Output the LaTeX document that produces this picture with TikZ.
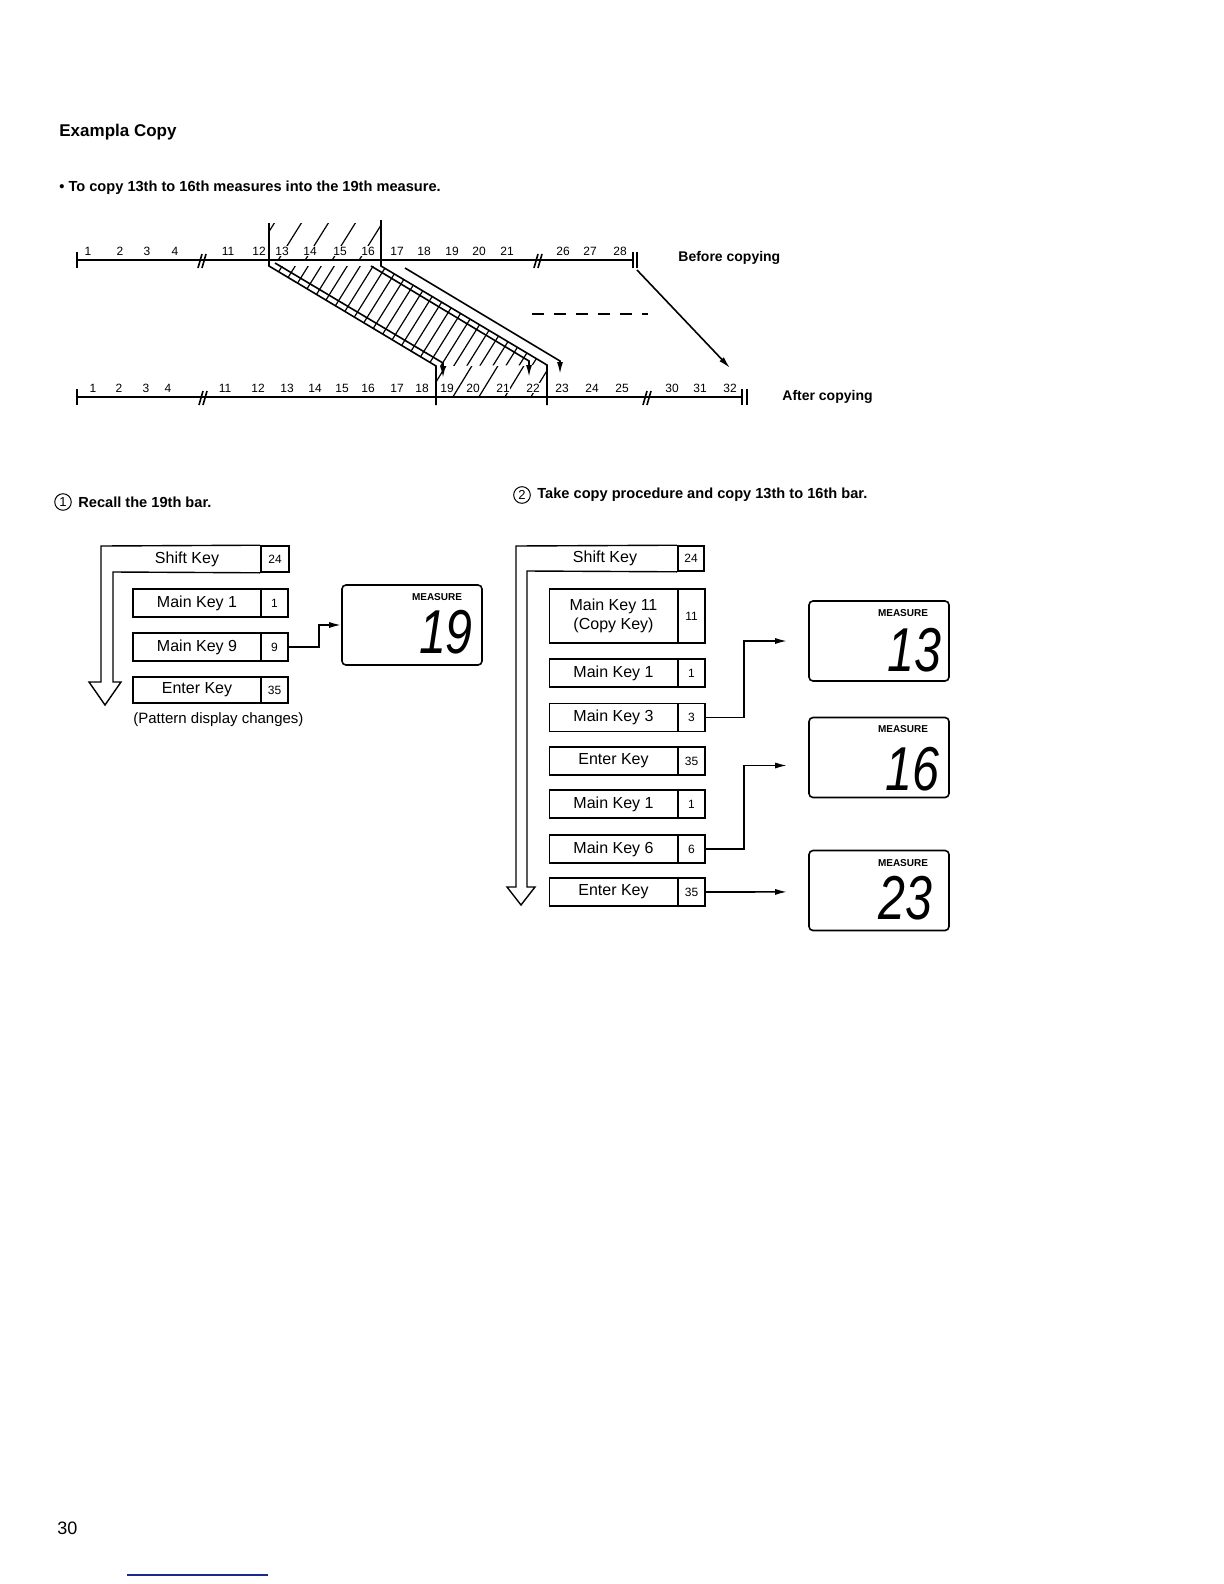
\documentclass[tikz,border=0pt]{standalone}
\usepackage{fontspec}
\setmainfont{Liberation Sans}
\usetikzlibrary{arrows.meta,positioning,calc}
\definecolor{pageBlue}{HTML}{1a2a8c}
\tikzset{
  >={Latex[length=6pt,width=3pt]},
  head/.style={font=\bfseries\fontsize{8.5}{10}\selectfont, anchor=west, inner sep=0pt},
  secthead/.style={font=\bfseries\fontsize{7.3}{9}\selectfont, anchor=west, inner sep=0pt},
  circnum/.style={draw, circle, line width=0.5pt, inner sep=0.9pt, font=\fontsize{6.5}{7}\selectfont},
  num/.style={font=\fontsize{6}{7}\selectfont, inner sep=0.4pt},
  numw/.style={num, fill=white},
  tline/.style={line width=1.2pt},
  edgeline/.style={line width=0.8pt},
  hatch/.style={line width=0.6pt},
  keybox/.style={draw, line width=0.8pt, minimum width=64pt, minimum height=14pt,
                 inner sep=0pt, align=center, font=\fontsize{8}{9.5}\selectfont},
  keylbl/.style={inner sep=0pt, font=\fontsize{8}{9.5}\selectfont},
  numcell/.style={draw, line width=0.8pt, minimum width=13.5pt, minimum height=14pt,
                 inner sep=0pt, font=\fontsize{6}{7}\selectfont},
  disp/.style={draw, line width=0.8pt, rounded corners=2pt, minimum width=70pt, minimum height=40pt},
  meas/.style={font=\bfseries\fontsize{5}{6}\selectfont, inner sep=0pt},
  segd/.style={font=\itshape\fontsize{31}{31}\selectfont, inner sep=0pt},
  flow/.style={->, line width=0.8pt},
  hollow/.style={line width=0.7pt},
  note/.style={font=\fontsize{7.5}{9}\selectfont, anchor=west, inner sep=0pt},
}
\newcommand{\segtext}[1]{\scalebox{0.78}[1]{#1}}
\begin{document}
\begin{tikzpicture}[x=0.5pt,y=-0.5pt]
  \useasboundingbox (0,0) rectangle (1224,1584);
  % titles
  \node[head] (title) at (59,132) {Exampla Copy};
  \node[secthead] (task) at (59,188) {\textbullet\ To copy 13th to 16th measures into the 19th measure.};

  % hatching: copied block, band and target
  \begin{scope}
    \clip (269,223) rectangle (381,260);
    \foreach \k in {0,...,7} \draw[hatch] ({250+27*\k},262) -- ++(25,-40);
  \end{scope}
  \begin{scope}
    \clip (269,266) -- (381,266) -- (547,365) -- (436,366) -- cycle;
    \foreach \k in {0,...,36} \draw[hatch] ({160+13*\k},420) -- ++(125,-200);
  \end{scope}
  \begin{scope}
    \clip (436,366) rectangle (547,397);
    \foreach \k in {0,...,6} \draw[hatch] ({425+26*\k},400) -- ++(22,-36);
  \end{scope}

  % before copying
  \draw[tline] (77,260) -- (633,260);
  \draw[edgeline] (77,252) -- (77,268);
  \draw[edgeline] (633,252) -- (633,268) (637,252) -- (637,268);
  \foreach \x in {202,538}
    \draw[edgeline] (\x-4,268) -- (\x,254) (\x,268) -- (\x+4,254);
  \foreach \n/\x in {1/88,2/120,3/147,4/175,11/228,12/259,17/397,18/424,19/452,20/479,21/507,26/563,27/590,28/620}
    \node[num] (t\n) at (\x,251) {\n};
  \foreach \n/\x in {13/282,14/310,15/340,16/368}
    \node[numw] (t\n) at (\x,251) {\n};
  \node[secthead, font=\bfseries\fontsize{7}{8}\selectfont] (before) at (678,258) {Before copying};

  % after copying
  \draw[tline] (77,397) -- (742,397);
  \draw[edgeline] (77,389) -- (77,405);
  \draw[edgeline] (742,389) -- (742,405) (747,389) -- (747,405);
  \foreach \x in {203,647}
    \draw[edgeline] (\x-4,405) -- (\x,391) (\x,405) -- (\x+4,391);
  \foreach \n/\x in {1/93,2/119,3/146,4/168,11/225,12/258,13/287,14/315,15/342,16/368,17/397,18/422,23/562,24/592,25/622,30/672,31/700,32/730}
    \node[num] (b\n) at (\x,388) {\n};
  \foreach \n/\x in {19/447,20/473,21/503,22/533}
    \node[numw] (b\n) at (\x,388) {\n};
  \node[secthead, font=\bfseries\fontsize{7}{8}\selectfont] (after) at (782,397) {After copying};

  % band outlines
  \draw[edgeline] (269,223) -- (269,266) -- (436,366) -- (436,405);
  \draw[edgeline] (381,220) -- (381,266) -- (547,365) -- (547,405);
  \coordinate (lo1) at (275,263); \coordinate (lo2) at (443,363); \coordinate (lo3) at (443,378);
  \coordinate (up1) at (371,266); \coordinate (up2) at (529,361); \coordinate (up3) at (529,377);
  \coordinate (sh1) at (405,268); \coordinate (sh2) at (560,361); \coordinate (sh3) at (560,374);
  \draw[edgeline,->] (lo1) -- (lo2) -- (lo3);
  \draw[edgeline,->] (up1) -- (up2) -- (up3);
  \draw[edgeline,->] (sh1) -- (sh2) -- (sh3);
  \coordinate (endT) at (637,270); \coordinate (endB) at (730,368);
  \draw[flow] (endT) -- (endB);
  \draw[edgeline, dash pattern=on 6pt off 5pt] (532,314) -- (648,314);

  % step 1
  \node[circnum] (c1) at (63,502) {1};
  \node[secthead] (h1) at (78,502) {Recall the 19th bar.};
  \node[keylbl] (a0) at (187,559) {Shift Key};
  \node[numcell, minimum width=14pt, minimum height=13pt] (a0n) at (275,559) {24};
  \node[keybox] (a1) at (197,603) {Main Key 1};
  \node[numcell] (a1n) at (274.5,603) {1};
  \node[keybox] (a2) at (197,647) {Main Key 9};
  \node[numcell] (a2n) at (274.5,647) {9};
  \node[keybox, minimum height=13pt] (a3) at (197,690) {Enter Key};
  \node[numcell, minimum height=13pt] (a3n) at (274.5,690) {35};
  \node[note] (pat) at (133,720) {(Pattern display changes)};
  \draw[hollow] (a0n.north west) -- (101,546) -- (101,682) -- (89,682) -- (105,705)
    -- (121,682) -- (113,682) -- (113,572) -- (a0n.south west);
  \node[disp] (d19) at (412,625) {};
  \node[meas] (m19) at (437,597) {MEASURE};
  \node[segd] (g19) at (446,632) {\segtext{19}};
  \draw[flow] (a2n.east) -- ++(30,0) |- (d19.west);

  % step 2
  \node[circnum] (c2) at (522,495) {2};
  \node[secthead] (h2) at (537,495) {Take copy procedure and copy 13th to 16th bar.};
  \node[keylbl] (s0) at (605,558.5) {Shift Key};
  \node[numcell, minimum width=13pt, minimum height=12.5pt] (s0n) at (691,558.5) {24};
  \node[keybox, minimum height=27pt] (s1) at (613.5,616) {Main Key 11\\(Copy Key)};
  \node[numcell, minimum height=27pt] (s1n) at (691.5,616) {11};
  \node[keybox] (s2) at (613.5,673) {Main Key 1};
  \node[numcell] (s2n) at (691.5,673) {1};
  \node[keybox] (s3) at (613.5,717.5) {Main Key 3};
  \node[numcell] (s3n) at (691.5,717.5) {3};
  \node[keybox] (s4) at (613.5,761) {Enter Key};
  \node[numcell] (s4n) at (691.5,761) {35};
  \node[keybox] (s5) at (613.5,804) {Main Key 1};
  \node[numcell] (s5n) at (691.5,804) {1};
  \node[keybox] (s6) at (613.5,849) {Main Key 6};
  \node[numcell] (s6n) at (691.5,849) {6};
  \node[keybox] (s7) at (613.5,892) {Enter Key};
  \node[numcell] (s7n) at (691.5,892) {35};
  \draw[hollow] (s0n.north west) -- (516,546) -- (516,887) -- (507,887) -- (521,905)
    -- (535,887) -- (527,887) -- (527,571) -- (s0n.south west);

  \node[disp] (d13) at (879,641) {};
  \node[meas] (m13) at (903,613) {MEASURE};
  \node[segd] (g13) at (914,650) {\segtext{13}};
  \node[disp] (d16) at (879,757.5) {};
  \node[meas] (m16) at (903,729) {MEASURE};
  \node[segd] (g16) at (912,769) {\segtext{16}};
  \node[disp] (d23) at (879,890.5) {};
  \node[meas] (m23) at (903,863) {MEASURE};
  \node[segd] (g23) at (905,898) {\segtext{23}};

  \coordinate (in13) at ([xshift=-10.5pt]d13.west);
  \coordinate (in16) at ([xshift=-10.5pt,yshift=-4pt]d16.west);
  \coordinate (in23) at ([xshift=-10.5pt,yshift=-0.7pt]d23.west);
  \draw[flow] (s3n.east) -- ++(38,0) |- (in13);
  \draw[flow] (s6n.east) -- ++(38,0) |- (in16);
  \draw[flow] (s7n.east) -- (in23);

  % page
  \node[font=\fontsize{9}{10}\selectfont, anchor=west, inner sep=0pt] (page) at (57,1528) {30};
  \coordinate (rule1) at (127,1575); \coordinate (rule2) at (268,1575);
  \draw[pageBlue, line width=1pt] (rule1) -- (rule2);
\end{tikzpicture}
\end{document}
